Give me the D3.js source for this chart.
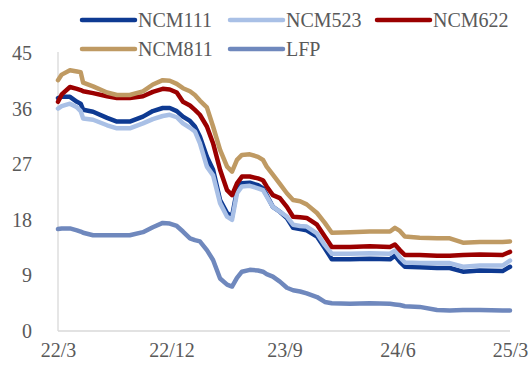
<!DOCTYPE html>
<html>
<head>
<meta charset="utf-8">
<script src="https://cdn.jsdelivr.net/npm/d3@7/dist/d3.min.js"></script>
<style>
  html, body { margin: 0; padding: 0; background: #fff; }
  svg { display: block; }
  text { font-family: "Liberation Serif", "Times New Roman", serif; fill: #595959; }
</style>
</head>
<body>
<svg id="chart" width="529" height="365"></svg>
<script>
// Price observation dates (shared by every series)
const dates = [
  "2022-03-01","2022-03-10","2022-03-30","2022-04-16","2022-04-25","2022-05-01","2022-05-25",
  "2022-06-28","2022-07-22","2022-08-22","2022-09-23","2022-10-17","2022-11-10",
  "2022-11-27","2022-12-14","2022-12-29","2023-01-15","2023-01-27","2023-02-08",
  "2023-02-25","2023-03-12","2023-03-29","2023-04-15","2023-04-27","2023-05-09",
  "2023-05-21","2023-06-09","2023-06-29","2023-07-11","2023-07-20","2023-08-04",
  "2023-08-21","2023-09-07","2023-09-22","2023-10-09","2023-10-25","2023-11-19",
  "2023-12-08","2023-12-25","2024-02-07","2024-03-26","2024-05-14","2024-05-26",
  "2024-06-07","2024-06-19","2024-07-25","2024-09-05","2024-10-06","2024-11-07",
  "2024-12-18","2025-02-11","2025-03-01"
];

const ncm111 = [
  37.7,37.9,37.9,37.1,36.8,35.8,35.5,34.5,33.9,33.9,34.7,35.6,36.1,
  36.1,35.6,34.7,34.0,33.1,31.5,28.2,26.1,21.2,19.1,18.5,22.8,
  23.9,24.0,23.6,23.1,22.0,20.1,19.3,18.3,16.7,16.5,16.3,15.3,
  13.4,11.6,11.6,11.7,11.6,12.2,11.2,10.4,10.3,10.2,10.2,9.6,
  9.8,9.7,10.4
];
const ncm523 = [
  36.0,36.4,36.8,36.2,35.6,34.4,34.2,33.3,32.8,32.8,33.6,34.3,34.8,
  35.0,34.6,33.6,32.9,32.3,30.4,26.6,25.2,20.7,18.5,18.0,22.3,
  23.4,23.5,23.1,22.8,21.8,20.1,19.3,18.5,17.2,17.0,16.9,15.8,
  13.9,12.5,12.5,12.6,12.5,13.0,11.9,11.1,11.0,11.0,11.0,10.4,
  10.6,10.6,11.4
];
const ncm622 = [
  37.1,38.3,39.5,39.2,39.0,38.8,38.5,38.0,37.7,37.7,38.0,38.7,39.2,
  39.1,38.6,37.1,36.5,35.8,35.0,33.1,30.4,26.1,22.8,22.0,23.9,
  25.0,25.0,24.7,24.4,23.4,22.0,21.5,20.1,18.5,18.4,18.3,17.2,
  15.3,13.6,13.6,13.7,13.6,14.0,13.1,12.3,12.3,12.2,12.2,12.3,
  12.4,12.3,12.8
];
const ncm811 = [
  40.6,41.5,42.2,42.0,41.9,40.2,39.6,38.6,38.2,38.2,38.8,39.9,40.6,
  40.5,40.0,39.3,38.8,38.2,37.3,36.2,33.1,29.3,26.6,25.8,27.7,
  28.5,28.6,28.2,27.7,26.6,25.3,23.8,22.3,21.2,21.0,20.5,19.1,
  17.5,15.9,16.0,16.1,16.1,16.7,16.2,15.3,15.1,15.0,15.0,14.3,
  14.4,14.4,14.5
];
const lfp = [
  16.5,16.6,16.6,16.3,16.1,15.9,15.5,15.5,15.5,15.5,16.0,16.8,17.5,
  17.4,17.0,16.1,15.0,14.7,14.5,13.1,11.5,8.5,7.5,7.2,8.6,
  9.6,9.9,9.8,9.6,9.2,8.8,8.0,7.0,6.6,6.4,6.1,5.5,
  4.7,4.5,4.4,4.5,4.4,4.3,4.2,4.0,3.9,3.4,3.3,3.4,
  3.4,3.3,3.3
];

const seriesNames = ["NCM111", "NCM523", "NCM622", "NCM811", "LFP"];
const seriesValues = [ncm111, ncm523, ncm622, ncm811, lfp];
const seriesColors = ["#0e3a92", "#a9c0e6", "#9b0000", "#bf9a63", "#6f88bd"];

const yTicks = [0, 9, 18, 27, 36, 45];
const xTickDates = ["2022-03-01", "2022-12-01", "2023-09-01", "2024-06-01", "2025-03-01"];
const xTickLabels = ["22/3", "22/12", "23/9", "24/6", "25/3"];

const parse = d3.timeParse("%Y-%m-%d");
const svg = d3.select("#chart");

const margin = { left: 58, right: 19, top: 53, bottom: 34 };
const width = 529, height = 365;

const x = d3.scaleTime()
  .domain([parse(dates[0]), parse(dates[dates.length - 1])])
  .range([margin.left, width - margin.right]);
const y = d3.scaleLinear()
  .domain([0, 45])
  .range([height - margin.bottom, margin.top]);

// Axis lines
svg.append("line")
  .attr("x1", margin.left).attr("x2", margin.left)
  .attr("y1", y(45) - 1).attr("y2", y(0))
  .attr("stroke", "#d9d9d9").attr("stroke-width", 1.3);
svg.append("line")
  .attr("x1", margin.left).attr("x2", x.range()[1])
  .attr("y1", y(0)).attr("y2", y(0))
  .attr("stroke", "#d9d9d9").attr("stroke-width", 1.3);

// Y tick labels
const yAxis = d3.axisLeft(y).tickValues(yTicks).tickSize(0).tickPadding(26);
const gy = svg.append("g").attr("transform", `translate(${margin.left},0)`).call(yAxis);
gy.select(".domain").remove();
gy.selectAll("text").attr("font-size", 20).attr("fill", "#595959")
  .style("font-family", '"Liberation Serif", "Times New Roman", serif');

// X tick labels
const xAxis = d3.axisBottom(x)
  .tickValues(xTickDates.map(parse))
  .tickFormat((d, i) => xTickLabels[i])
  .tickSize(0).tickPadding(12);
const gx = svg.append("g").attr("transform", `translate(0,${y(0)})`).call(xAxis);
gx.select(".domain").remove();
gx.selectAll("text").attr("font-size", 20).attr("fill", "#595959")
  .style("font-family", '"Liberation Serif", "Times New Roman", serif');

// Series lines
const line = d3.line()
  .x((d, i) => x(parse(dates[i])))
  .y(d => y(d));

seriesValues.forEach((vals, k) => {
  svg.append("path")
    .datum(vals)
    .attr("d", line)
    .attr("fill", "none")
    .attr("stroke", seriesColors[k])
    .attr("stroke-width", 4.5)
    .attr("stroke-linejoin", "round")
    .attr("stroke-linecap", "round");
});

// Legend
const legendPos = [
  { x: 82, y: 20 }, { x: 230, y: 20 }, { x: 377, y: 20 },
  { x: 82, y: 49 }, { x: 230, y: 49 }
];
seriesNames.forEach((name, k) => {
  const p = legendPos[k];
  const g = svg.append("g").attr("transform", `translate(${p.x},${p.y})`);
  g.append("line")
    .attr("x1", 0).attr("x2", 53).attr("y1", 0).attr("y2", 0)
    .attr("stroke", seriesColors[k]).attr("stroke-width", 4.5)
    .attr("stroke-linecap", "round");
  g.append("text")
    .attr("x", 56).attr("y", 6.5)
    .attr("font-size", 20)
    .text(name);
});
</script>
</body>
</html>
